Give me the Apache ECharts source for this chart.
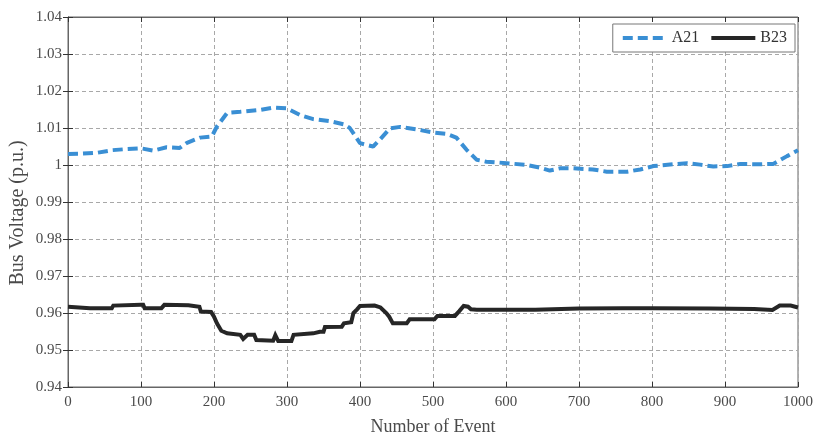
<!DOCTYPE html>
<html>
<head>
<meta charset="utf-8">
<script src="https://cdn.jsdelivr.net/npm/echarts@6/dist/echarts.min.js"></script>
<style>
  html, body { margin: 0; padding: 0; background: #fff; }
  #chart { width: 820px; height: 434px; }
</style>
</head>
<body>
<div id="chart"></div>
<script>
// Bus voltage at two buses over a sequence of events
const eventsA21 = [0, 20, 40, 60, 80, 100, 117, 135, 153, 163, 181, 197, 204, 218, 236, 263, 281, 300, 318, 336, 360, 378, 386, 400, 418, 427, 441, 455, 478, 500, 519, 532, 546, 560, 573, 601, 628, 646, 660, 674, 692, 719, 738, 766, 784, 802, 829, 848, 866, 884, 903, 921, 945, 966, 985, 1000];
const voltA21 = [1.0030, 1.0031, 1.0033, 1.0040, 1.0043, 1.0045, 1.0039, 1.0048, 1.0046, 1.0060, 1.0074, 1.0077, 1.0104, 1.0141, 1.0144, 1.0149, 1.0155, 1.0153, 1.0135, 1.0124, 1.0118, 1.0110, 1.0100, 1.0059, 1.0050, 1.0068, 1.0099, 1.0103, 1.0096, 1.0088, 1.0084, 1.0074, 1.0041, 1.0014, 1.0009, 1.0005, 1.0000, 0.9993, 0.9985, 0.9991, 0.9991, 0.9988, 0.9982, 0.9982, 0.9988, 0.9997, 1.0002, 1.0005, 1.0001, 0.9996, 0.9997, 1.0003, 1.0002, 1.0003, 1.0024, 1.0040];

const eventsB23 = [0, 30, 60, 62, 100, 103, 105, 128, 132, 165, 180, 182, 196, 200, 204, 210, 218, 236, 240, 246, 255, 258, 281, 284, 288, 306, 309, 336, 345, 350, 352, 375, 378, 388, 391, 396, 400, 420, 428, 436, 440, 445, 464, 468, 502, 506, 530, 536, 542, 548, 552, 560, 640, 700, 760, 800, 880, 940, 965, 975, 990, 1000];
const voltB23 = [0.9617, 0.9613, 0.9613, 0.9620, 0.9622, 0.9622, 0.9613, 0.9613, 0.9622, 0.9621, 0.9617, 0.9604, 0.9603, 0.9590, 0.9572, 0.9552, 0.9545, 0.9541, 0.9530, 0.9541, 0.9541, 0.9527, 0.9525, 0.9540, 0.9524, 0.9524, 0.9541, 0.9545, 0.9549, 0.9549, 0.9562, 0.9563, 0.9572, 0.9575, 0.9600, 0.9610, 0.9619, 0.9620, 0.9615, 0.9600, 0.9590, 0.9572, 0.9572, 0.9583, 0.9583, 0.9592, 0.9592, 0.9605, 0.9619, 0.9617, 0.9610, 0.9609, 0.9609, 0.9612, 0.9613, 0.9613, 0.9612, 0.9611, 0.9608, 0.9620, 0.9620, 0.9615];

const xTicks = [0, 100, 200, 300, 400, 500, 600, 700, 800, 900, 1000];
const yTicks = [0.94, 0.95, 0.96, 0.97, 0.98, 0.99, 1.00, 1.01, 1.02, 1.03, 1.04];

const pairs = (xs, ys) => xs.map((x, i) => [x, ys[i]]);

const FONT = '"Liberation Serif", "DejaVu Serif", serif';
const TEXT = '#4a4a4a';
const gridLine = { show: true, lineStyle: { color: '#a8a8a8', type: [4, 3], width: 1 } };
const mirrorTick = { show: true, inside: true, length: 5, lineStyle: { color: '#333' } };

const chart = echarts.init(document.getElementById('chart'), null, { renderer: 'canvas' });
chart.setOption({
  animation: false,
  backgroundColor: '#fff',
  grid: {
    left: 68, right: 22, top: 17, bottom: 47,
    outerBoundsMode: 'none', containLabel: false,
    show: true, borderColor: '#666', borderWidth: 1
  },
  legend: {
    right: 25, top: 24,
    itemWidth: 44, itemHeight: 12, itemGap: 10,
    padding: [6, 8, 6, 8],
    borderColor: '#777', borderWidth: 1,
    backgroundColor: '#fff',
    itemStyle: { opacity: 0 },
    lineStyle: { width: 4 },
    textStyle: { fontFamily: FONT, fontSize: 16, color: '#333' },
    data: ['A21', 'B23']
  },
  graphic: [{
    type: 'text', x: 18, y: 213, rotation: Math.PI / 2,
    style: {
      text: 'Bus Voltage (p.u.)', fontFamily: FONT, fontSize: 20, fill: TEXT,
      align: 'center', verticalAlign: 'middle'
    }
  }],
  xAxis: [{
    type: 'value', min: xTicks[0], max: xTicks[xTicks.length - 1], interval: 100,
    name: 'Number of Event', nameLocation: 'middle', nameGap: 31,
    nameTextStyle: { fontFamily: FONT, fontSize: 18, color: TEXT },
    axisLine: { show: true, lineStyle: { color: '#666' } },
    axisTick: mirrorTick,
    axisLabel: { fontFamily: FONT, fontSize: 15, color: TEXT, margin: 8, formatter: v => String(v) },
    splitLine: gridLine
  }, {
    type: 'value', position: 'top', min: xTicks[0], max: xTicks[xTicks.length - 1], interval: 100,
    axisLine: { show: true, lineStyle: { color: '#666' } },
    axisTick: mirrorTick,
    axisLabel: { show: false }, splitLine: { show: false }
  }],
  yAxis: [{
    type: 'value', min: yTicks[0], max: yTicks[yTicks.length - 1], interval: 0.01,
    axisLine: { show: true, lineStyle: { color: '#666' } },
    axisTick: mirrorTick,
    axisLabel: { fontFamily: FONT, fontSize: 15, color: TEXT, margin: 6,
      formatter: v => String(+v.toFixed(2)) },
    splitLine: gridLine
  }, {
    type: 'value', position: 'right', min: yTicks[0], max: yTicks[yTicks.length - 1], interval: 0.01,
    axisLine: { show: true, lineStyle: { color: '#666' } },
    axisTick: mirrorTick,
    axisLabel: { show: false }, splitLine: { show: false }
  }],
  series: [{
    name: 'A21', type: 'line', showSymbol: false, symbol: 'none',
    data: pairs(eventsA21, voltA21),
    lineStyle: { color: '#3a8fd4', width: 4, type: [10, 5] },
    itemStyle: { color: '#3a8fd4' }
  }, {
    name: 'B23', type: 'line', showSymbol: false, symbol: 'none',
    data: pairs(eventsB23, voltB23),
    lineStyle: { color: '#262626', width: 4, join: 'miter' },
    itemStyle: { color: '#262626' }
  }]
});
</script>
</body>
</html>
